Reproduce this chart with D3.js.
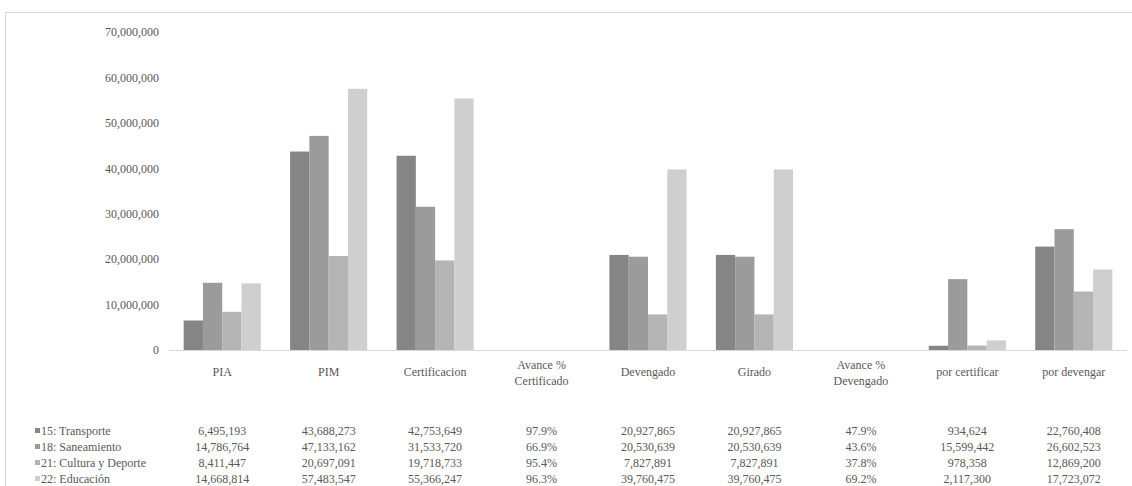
<!DOCTYPE html>
<html>
<head>
<meta charset="utf-8">
<script src="https://cdn.jsdelivr.net/npm/d3@7"></script>
<style>
  body { margin: 0; background: #fff; }
</style>
</head>
<body>
<div id="chart"></div>
<script>
let categories = ["PIA", "PIM", "Certificacion", "Avance % Certificado", "Devengado", "Girado", "Avance % Devengado", "por certificar", "por devengar"];
let pctCols = ["Avance % Certificado", "Avance % Devengado"];
let seriesNames = ["15: Transporte", "18: Saneamiento", "21: Cultura y Deporte", "22: Educación"];
let transporte = [6495193, 43688273, 42753649, 0.979, 20927865, 20927865, 0.479, 934624, 22760408];
let saneamiento = [14786764, 47133162, 31533720, 0.669, 20530639, 20530639, 0.436, 15599442, 26602523];
let cultura = [8411447, 20697091, 19718733, 0.954, 7827891, 7827891, 0.378, 978358, 12869200];
let educacion = [14668814, 57483547, 55366247, 0.963, 39760475, 39760475, 0.692, 2117300, 17723072];
let yTicks = [0, 10000000, 20000000, 30000000, 40000000, 50000000, 60000000, 70000000];
let colors = ["#858585", "#9b9b9b", "#b4b4b4", "#cfcfcf"];

let seriesValues = [transporte, saneamiento, cultura, educacion];

let width = 1132, height = 486;
let margin = {top: 32, left: 169, right: 1127, bottom: 350};
let font = "'Liberation Serif'";
let textColor = "#595959";

let svg = d3.select("#chart").append("svg")
    .attr("width", width)
    .attr("height", height);

// chart frame
svg.append("rect")
    .attr("x", 5.5).attr("y", 12.5)
    .attr("width", 1140).attr("height", 490)
    .attr("fill", "none")
    .attr("stroke", "#d9d9d9");

let x = d3.scaleBand()
    .domain(categories)
    .range([margin.left, margin.right]);
let x1 = d3.scaleBand()
    .domain(seriesNames)
    .range([0, x.bandwidth()])
    .paddingOuter(0.76);
let y = d3.scaleLinear()
    .domain([0, 70000000])
    .range([margin.bottom, margin.top]);

let yAxis = d3.axisLeft(y)
    .tickValues(yTicks)
    .tickFormat(d3.format(","))
    .tickSize(0)
    .tickPadding(10);

let gy = svg.append("g")
    .attr("transform", "translate(" + margin.left + ",0)")
    .call(yAxis);
gy.select(".domain").remove();
gy.selectAll("text")
    .style("font-family", font)
    .style("font-size", "12px")
    .style("fill", textColor);

let groups = svg.selectAll(".series")
    .data(seriesNames)
    .enter()
    .append("g")
    .attr("class", "series")
    .attr("fill", (d, i) => colors[i]);

groups.selectAll("rect")
    .data((s, i) => categories.map((c, j) => ({cat: c, s: s, value: seriesValues[i][j]})))
    .enter()
    .append("rect")
    .attr("x", d => x(d.cat) + x1(d.s))
    .attr("width", x1.bandwidth())
    .attr("y", d => y(d.value))
    .attr("height", d => y(0) - y(d.value));

svg.append("line")
    .attr("x1", margin.left).attr("x2", margin.right)
    .attr("y1", y(0) + 0.5).attr("y2", y(0) + 0.5)
    .attr("stroke", "#d9d9d9");

// category labels
let catLabels = svg.append("g").selectAll("text")
    .data(categories)
    .enter()
    .append("text")
    .attr("x", d => x(d) + x.bandwidth() / 2)
    .attr("y", 376)
    .attr("text-anchor", "middle")
    .style("font-family", font)
    .style("font-size", "12px")
    .style("fill", textColor);

catLabels.each(function (d) {
    let t = d3.select(this);
    if (pctCols.includes(d)) {
        let parts = d.split("% ");
        t.append("tspan").attr("x", x(d) + x.bandwidth() / 2).attr("y", 369).text(parts[0] + "%");
        t.append("tspan").attr("x", x(d) + x.bandwidth() / 2).attr("y", 385).text(parts[1]);
    } else {
        t.text(d);
    }
});

// data table
let fmtNum = d3.format(",");
let fmtPct = d3.format(".1%");
let rowY = [435, 451, 467, 483];

seriesNames.forEach((s, i) => {
    svg.append("rect")
        .attr("x", 35).attr("y", rowY[i] - 7)
        .attr("width", 5).attr("height", 5)
        .attr("fill", colors[i]);

    svg.append("text")
        .attr("x", 41).attr("y", rowY[i])
        .style("font-family", font)
        .style("font-size", "12px")
        .style("fill", textColor)
        .text(s);

    svg.append("g").selectAll("text")
        .data(categories)
        .enter()
        .append("text")
        .attr("x", d => x(d) + x.bandwidth() / 2)
        .attr("y", rowY[i])
        .attr("text-anchor", "middle")
        .style("font-family", font)
        .style("font-size", "12px")
        .style("fill", textColor)
        .text((d, j) => pctCols.includes(d) ? fmtPct(seriesValues[i][j]) : fmtNum(seriesValues[i][j]));
});
</script>
</body>
</html>
